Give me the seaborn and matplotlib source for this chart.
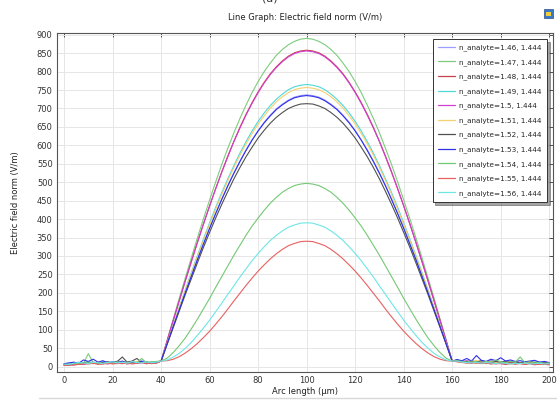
import pandas as pd
import seaborn as sns
import matplotlib.pyplot as plt
from matplotlib.lines import Line2D
from matplotlib.patches import Rectangle

# x grid (arc length, um): noisy baseline, hump, noisy baseline
x_left = [0, 2, 4, 6, 8, 10, 12, 14, 16, 18, 20, 22, 24, 26, 28, 30, 32, 34, 36, 38]
x_hump = [40, 42.5, 45, 47.5, 50, 52.5, 55, 57.5, 60, 62.5, 65, 67.5, 70, 72.5, 75, 77.5,
          80, 82.5, 85, 87.5, 90, 92.5, 95, 97.5, 100,
          102.5, 105, 107.5, 110, 112.5, 115, 117.5, 120, 122.5, 125, 127.5,
          130, 132.5, 135, 137.5, 140, 142.5, 145, 147.5, 150, 152.5, 155, 157.5, 160]
x_right = [162, 164, 166, 168, 170, 172, 174, 176, 178, 180,
           182, 184, 186, 188, 190, 192, 194, 196, 198, 200]

labels = ['n_analyte=1.46, 1.444', 'n_analyte=1.47, 1.444', 'n_analyte=1.48, 1.444',
          'n_analyte=1.49, 1.444', 'n_analyte=1.5, 1.444', 'n_analyte=1.51, 1.444',
          'n_analyte=1.52, 1.444', 'n_analyte=1.53, 1.444', 'n_analyte=1.54, 1.444',
          'n_analyte=1.55, 1.444', 'n_analyte=1.56, 1.444']
colors = ['#9d9dff', '#7ccc7c', '#c8404a', '#4fd8d8', '#d040d0', '#f5d070',
          '#505050', '#3030e8', '#74c874', '#e86060', '#6ee6e6']

# electric field norm (V/m): left noise / hump / right noise
e_146 = [6, 8, 9, 12, 10, 14, 9, 12, 10, 13, 11, 15, 12, 9, 14, 11, 16, 12, 10, 13,
         15, 62, 109, 156, 202, 247, 291, 334, 376, 416, 455, 491, 526, 558, 588, 615,
         640, 663, 682, 699, 712, 723, 731, 735, 737,
         735, 731, 723, 712, 699, 682, 663, 640, 615, 588, 558, 526, 491, 455, 416,
         376, 334, 291, 247, 202, 156, 109, 62, 15,
         18, 15, 14, 17, 13, 15, 12, 16, 14, 11, 13, 15, 12, 10, 13, 11, 12, 14, 10, 9]
e_147 = [5, 7, 8, 6, 9, 35, 10, 8, 12, 9, 11, 10, 14, 12, 9, 13, 11, 10, 14, 12,
         15, 72, 129, 186, 241, 296, 350, 402, 452, 501, 548, 592, 634, 673, 709, 743,
         773, 800, 823, 844, 860, 873, 882, 888, 890,
         888, 882, 873, 860, 844, 823, 800, 773, 743, 709, 673, 634, 592, 548, 501,
         452, 402, 350, 296, 241, 186, 129, 72, 15,
         17, 14, 12, 15, 13, 11, 14, 12, 15, 10, 13, 11, 12, 9, 11, 10, 12, 9, 10, 8]
e_148 = [3, 4, 5, 7, 6, 9, 12, 8, 7, 10, 9, 8, 11, 7, 10, 9, 12, 8, 11, 10,
         15, 70, 125, 179, 233, 286, 338, 388, 436, 483, 528, 571, 611, 649, 684, 716,
         745, 771, 794, 813, 829, 842, 851, 856, 858,
         856, 851, 842, 829, 813, 794, 771, 745, 716, 684, 649, 611, 571, 528, 483,
         436, 388, 338, 286, 233, 179, 125, 70, 15,
         14, 12, 10, 9, 11, 8, 10, 7, 9, 8, 6, 8, 7, 9, 6, 8, 5, 7, 6, 5]
e_149 = [7, 9, 11, 8, 10, 13, 11, 9, 14, 10, 12, 9, 11, 13, 10, 12, 14, 11, 9, 12,
         15, 64, 113, 161, 209, 256, 302, 347, 390, 432, 472, 509, 545, 579, 610, 639,
         665, 688, 708, 725, 739, 751, 759, 763, 765,
         763, 759, 751, 739, 725, 708, 688, 665, 639, 610, 579, 545, 509, 472, 432,
         390, 347, 302, 256, 209, 161, 113, 64, 15,
         16, 14, 13, 15, 12, 14, 11, 13, 12, 10, 12, 11, 9, 11, 10, 12, 9, 10, 8, 9]
e_150 = [4, 6, 5, 8, 7, 10, 8, 11, 9, 7, 10, 12, 8, 11, 13, 9, 10, 12, 8, 11,
         15, 70, 125, 179, 233, 285, 337, 387, 436, 482, 527, 569, 610, 647, 682, 714,
         743, 769, 792, 811, 827, 840, 849, 854, 856,
         854, 849, 840, 827, 811, 792, 769, 743, 714, 682, 647, 610, 569, 527, 482,
         436, 387, 337, 285, 233, 179, 125, 70, 15,
         15, 13, 16, 12, 14, 11, 13, 15, 12, 10, 12, 14, 11, 9, 12, 10, 11, 9, 10, 8]
e_151 = [5, 7, 6, 9, 8, 11, 9, 13, 10, 8, 12, 10, 13, 9, 11, 14, 10, 12, 9, 13,
         15, 64, 112, 160, 207, 253, 299, 343, 386, 427, 467, 504, 540, 573, 604, 632,
         658, 680, 701, 718, 732, 743, 751, 755, 757,
         755, 751, 743, 732, 718, 701, 680, 658, 632, 604, 573, 540, 504, 467, 427,
         386, 343, 299, 253, 207, 160, 112, 64, 15,
         16, 14, 12, 15, 17, 13, 12, 14, 11, 13, 12, 10, 13, 11, 9, 12, 10, 11, 9, 10]
e_152 = [6, 5, 8, 7, 10, 12, 9, 8, 11, 13, 10, 14, 26, 12, 15, 22, 11, 13, 10, 12,
         15, 61, 106, 151, 196, 239, 282, 324, 364, 403, 440, 475, 509, 540, 569, 595,
         620, 641, 660, 676, 689, 700, 707, 712, 713,
         712, 707, 700, 689, 676, 660, 641, 620, 595, 569, 540, 509, 475, 440, 403,
         364, 324, 282, 239, 196, 151, 106, 61, 15,
         17, 15, 13, 14, 12, 16, 13, 11, 14, 12, 15, 11, 13, 10, 12, 14, 11, 10, 12, 9]
e_153 = [8, 10, 12, 9, 18, 14, 20, 12, 16, 10, 13, 11, 15, 9, 12, 10, 14, 8, 11, 10,
         15, 62, 109, 155, 201, 246, 291, 333, 375, 415, 453, 490, 524, 556, 586, 614,
         639, 661, 680, 697, 710, 721, 729, 733, 735,
         733, 729, 721, 710, 697, 680, 661, 639, 614, 586, 556, 524, 490, 453, 415,
         375, 333, 291, 246, 201, 155, 109, 62, 15,
         19, 16, 22, 15, 30, 17, 14, 20, 16, 24, 15, 18, 14, 16, 13, 15, 17, 12, 14, 11]
e_154 = [4, 6, 7, 9, 8, 12, 9, 10, 8, 11, 9, 13, 10, 12, 9, 11, 22, 10, 12, 14,
         15, 23, 38, 57, 78, 103, 129, 157, 185, 215, 244, 273, 302, 329, 356, 381,
         403, 424, 443, 459, 473, 483, 491, 495, 497,
         495, 491, 483, 473, 459, 443, 424, 403, 381, 356, 329, 302, 273, 244, 215,
         185, 157, 129, 103, 78, 57, 38, 23, 15,
         16, 14, 12, 15, 13, 11, 14, 12, 18, 13, 11, 14, 12, 26, 11, 13, 10, 12, 9, 10]
e_155 = [3, 5, 4, 6, 8, 7, 9, 6, 8, 10, 7, 9, 8, 10, 7, 9, 11, 8, 10, 9,
         15, 16, 20, 27, 37, 49, 63, 79, 96, 115, 135, 156, 178, 199, 220, 240,
         259, 276, 292, 306, 318, 328, 334, 339, 340,
         339, 334, 328, 318, 306, 292, 276, 259, 240, 220, 199, 178, 156, 135, 115,
         96, 79, 63, 49, 37, 27, 20, 16, 15,
         13, 11, 10, 12, 9, 11, 8, 10, 7, 9, 8, 10, 7, 8, 6, 9, 7, 6, 8, 5]
e_156 = [7, 6, 9, 11, 10, 8, 12, 10, 9, 11, 13, 10, 12, 9, 14, 11, 10, 13, 11, 12,
         15, 18, 26, 36, 50, 66, 85, 105, 126, 149, 172, 196, 219, 243, 265, 287,
         307, 325, 342, 356, 368, 378, 384, 389, 390,
         389, 384, 378, 368, 356, 342, 325, 307, 287, 265, 243, 219, 196, 172, 149,
         126, 105, 85, 66, 50, 36, 26, 18, 15,
         15, 12, 11, 10, 12, 9, 11, 10, 8, 10, 9, 7, 9, 8, 10, 7, 8, 9, 7, 8]

series = [e_146, e_147, e_148, e_149, e_150, e_151, e_152, e_153, e_154, e_155, e_156]
x_all = x_left + x_hump + x_right

frames = []
for lab, vals in zip(labels, series):
    frames.append(pd.DataFrame({'arc': x_all, 'E': vals, 'series': lab}))
df = pd.concat(frames, ignore_index=True)

sns.set_style("whitegrid")
plt.rcParams['font.family'] = ['DejaVu Sans']

fig = plt.figure(figsize=(5.57, 4.01), dpi=100)
ax = fig.add_axes([0.102, 0.072, 0.891, 0.846])

sns.lineplot(data=df, x='arc', y='E', hue='series', palette=dict(zip(labels, colors)),
             estimator=None, sort=False, linewidth=0.8, legend=False, ax=ax)

ax.set_xlim(-3, 201.6)
ax.set_ylim(-15, 905)
ax.set_xticks(range(0, 201, 20))
ax.set_yticks(range(0, 901, 50))
ax.grid(True, color='#e6e6e6', linewidth=0.7)
ax.tick_params(direction='in', length=3, width=0.6, labelsize=6, colors='#333333',
               top=True, right=True, labeltop=False, labelright=False, pad=3)
for sp in ax.spines.values():
    sp.set_color('#555555')
    sp.set_linewidth(0.8)

ax.set_xlabel('Arc length (µm)', fontsize=6, color='#222222', labelpad=1)
ax.set_ylabel('Electric field norm (V/m)', fontsize=6, color='#222222', labelpad=12)
ax.set_title('Line Graph: Electric field norm (V/m)', fontsize=6, color='#222222', pad=9)

handles = [Line2D([0], [0], color=c, linewidth=0.9) for c in colors]
leg = ax.legend(handles, labels, loc='upper right', fontsize=5.2, frameon=True,
                fancybox=False, shadow=True, handlelength=2.3, handletextpad=0.6,
                borderpad=0.75, labelspacing=1.07, borderaxespad=0.85)
leg.get_frame().set_edgecolor('#333333')
leg.get_frame().set_linewidth(0.7)

# top clipped panel label, small icon and bottom separator
fig.text(0.485, 1.004, '(a)', ha='center', va='center', fontsize=8, color='#333333')
fig.patches.append(Rectangle((0.977, 0.955), 0.016, 0.022, transform=fig.transFigure,
                             facecolor='#3a78c8', edgecolor='#2a5090', linewidth=0.5))
fig.patches.append(Rectangle((0.981, 0.96), 0.008, 0.011, transform=fig.transFigure,
                             facecolor='#f0d040', edgecolor='none'))
fig.add_artist(Line2D([0.07, 1.0], [0.008, 0.008], transform=fig.transFigure,
                      color='#d8d8d8', linewidth=1))

fig.savefig('out.png', dpi=100)
